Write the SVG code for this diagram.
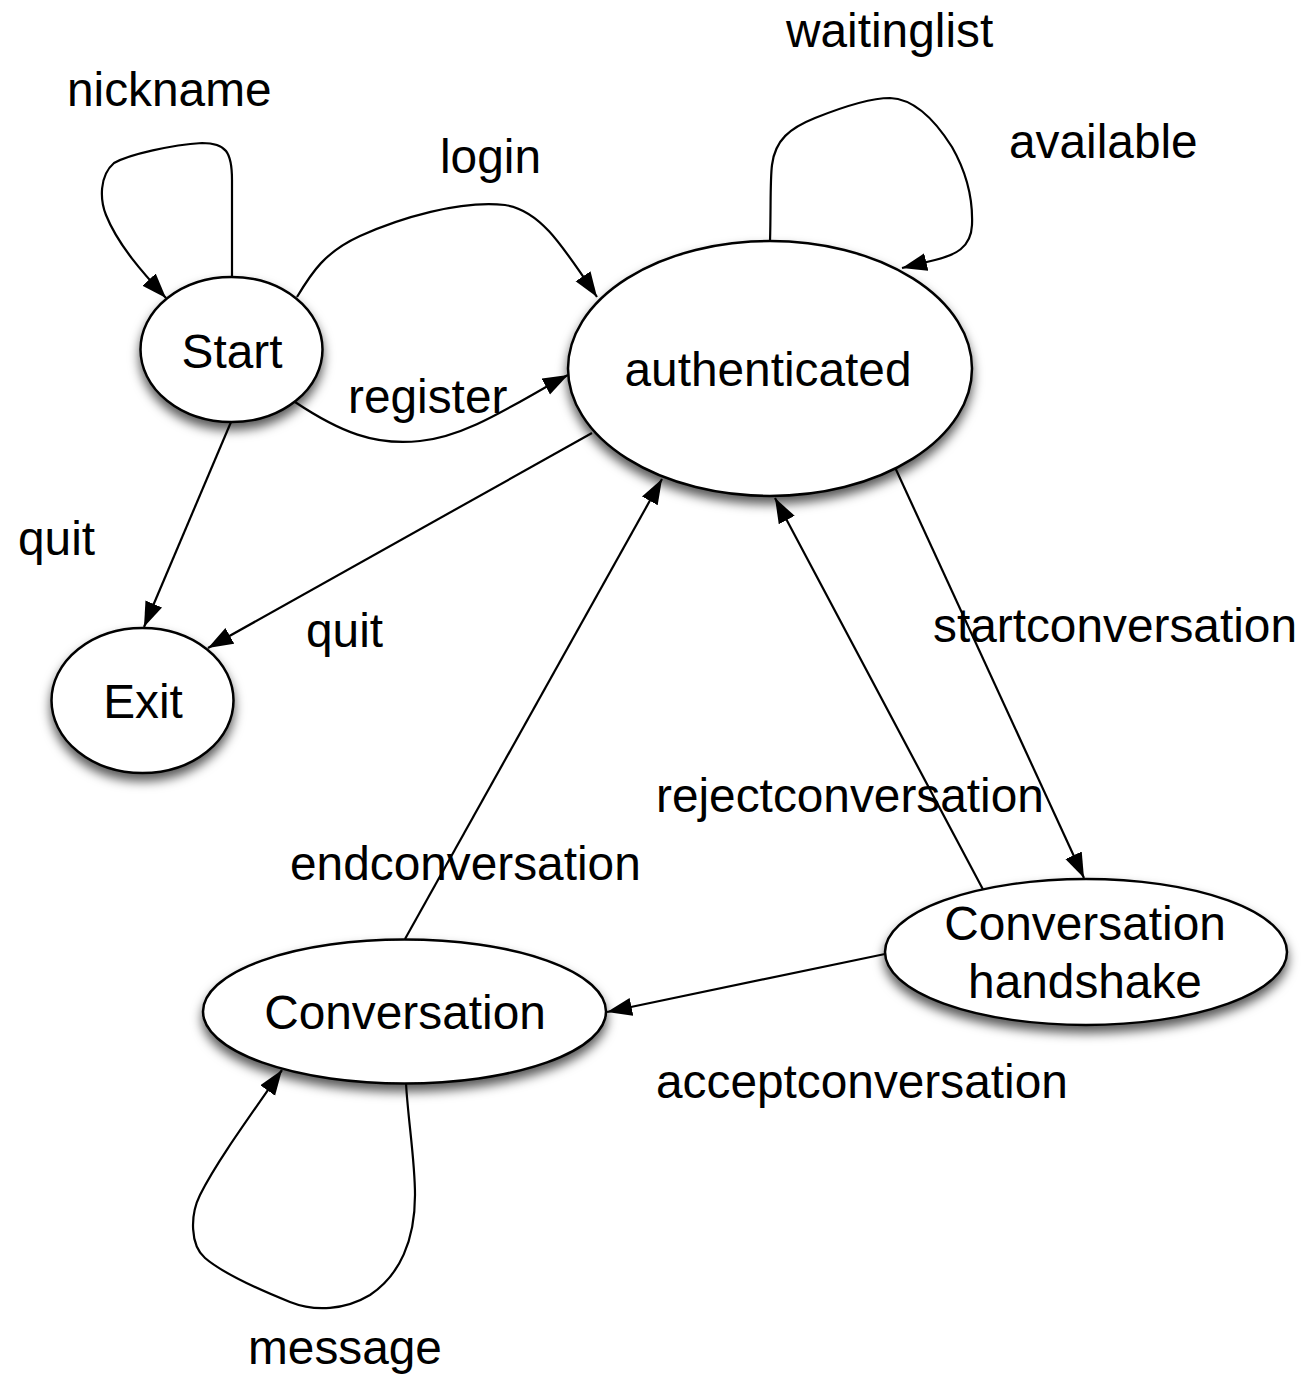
<svg xmlns="http://www.w3.org/2000/svg" width="1305" height="1376" viewBox="0 0 1305 1376">
  <style>
    .state { fill: #ffffff; stroke: #000000; stroke-width: 2.5; filter: url(#shadow); }
    .edge { fill: none; stroke: #000000; stroke-width: 2.2; marker-end: url(#arrow); }
    text { font-family: "Liberation Sans", Arial, Helvetica, sans-serif; font-size: 47.8px; fill: #000000; }
    .mid { text-anchor: middle; }
  </style>
  <defs>
    <filter id="shadow" x="-20%" y="-20%" width="140%" height="150%">
      <feDropShadow dx="0" dy="7" stdDeviation="5.5" flood-color="#000000" flood-opacity="0.65"/>
    </filter>
    <marker id="arrow" markerUnits="userSpaceOnUse" markerWidth="28" markerHeight="20" refX="25" refY="9" orient="auto">
      <path d="M0,0 L25,9 L0,18 z" fill="#000000"/>
    </marker>
  </defs>

  <rect width="1305" height="1376" fill="#ffffff"/>

  <!-- transitions -->
  <g id="connectors">
    <!-- nickname: Start -> Start -->
    <path class="edge" d="M232,277 L232,180 C232,152 226,143 202,143 C172,145 130,154 114,163 C99,176 100,200 106,215 C118,245 143,273 166,298"/>
    <!-- login: Start -> authenticated -->
    <path class="edge" d="M297,297 C312,272 325,252 360,236 C400,218 460,200 505,205 C540,210 562,245 597,297"/>
    <!-- register: Start -> authenticated -->
    <path class="edge" d="M295,402 C340,432 375,446 420,441 C470,436 520,400 568,375"/>
    <!-- waitinglist / available: authenticated -> authenticated -->
    <path class="edge" d="M770,241 C771,210 770,180 772,165 C775,140 790,128 815,118 C845,106 870,98 890,98 C915,99 935,120 952,147 C968,175 973,200 972,225 C971,248 955,255 935,260 L902,268"/>
    <!-- quit: Start -> Exit -->
    <path class="edge" d="M231,422 L144,627"/>
    <!-- quit: authenticated -> Exit -->
    <path class="edge" d="M592,433 L208,648"/>
    <!-- endconversation: Conversation -> authenticated -->
    <path class="edge" d="M405,939 L662,479"/>
    <!-- startconversation: authenticated -> Conversation handshake -->
    <path class="edge" d="M893,463 L1084,878"/>
    <!-- rejectconversation: Conversation handshake -> authenticated -->
    <path class="edge" d="M987,897 L775,498"/>
    <!-- acceptconversation: Conversation handshake -> Conversation -->
    <path class="edge" d="M885,954 L607,1012"/>
    <!-- message: Conversation -> Conversation -->
    <path class="edge" d="M406,1083 C408,1120 415,1160 415,1195 C415,1240 400,1275 370,1295 C345,1310 315,1312 290,1302 C260,1290 225,1275 205,1258 C190,1245 190,1215 200,1195 C215,1165 240,1130 282,1070"/>
  </g>

  <!-- transition labels -->
  <g id="labels">
    <text x="67" y="106">nickname</text>
    <text x="440" y="173">login</text>
    <text x="786" y="47">waitinglist</text>
    <text x="1009" y="158">available</text>
    <text x="348" y="413">register</text>
    <text x="18" y="555">quit</text>
    <text x="306" y="647">quit</text>
    <text x="933" y="642">startconversation</text>
    <text x="656" y="812">rejectconversation</text>
    <text x="290" y="880">endconversation</text>
    <text x="656" y="1098">acceptconversation</text>
    <text x="248" y="1364">message</text>
  </g>

  <!-- states -->
  <g id="node-start">
    <ellipse class="state" cx="231.5" cy="349.5" rx="91" ry="72.5"/>
    <text class="mid" x="232" y="368">Start</text>
  </g>
  <g id="node-authenticated">
    <ellipse class="state" cx="770" cy="368.5" rx="202" ry="127.5"/>
    <text class="mid" x="768" y="386">authenticated</text>
  </g>
  <g id="node-exit">
    <ellipse class="state" cx="142.5" cy="700.5" rx="91" ry="72.5"/>
    <text class="mid" x="143" y="718">Exit</text>
  </g>
  <g id="node-handshake">
    <ellipse class="state" cx="1086" cy="952" rx="201" ry="73"/>
    <text class="mid" x="1085" y="940">Conversation</text>
    <text class="mid" x="1085" y="998">handshake</text>
  </g>
  <g id="node-conversation">
    <ellipse class="state" cx="404.5" cy="1011.5" rx="201.5" ry="72"/>
    <text class="mid" x="405" y="1029">Conversation</text>
  </g>
</svg>
